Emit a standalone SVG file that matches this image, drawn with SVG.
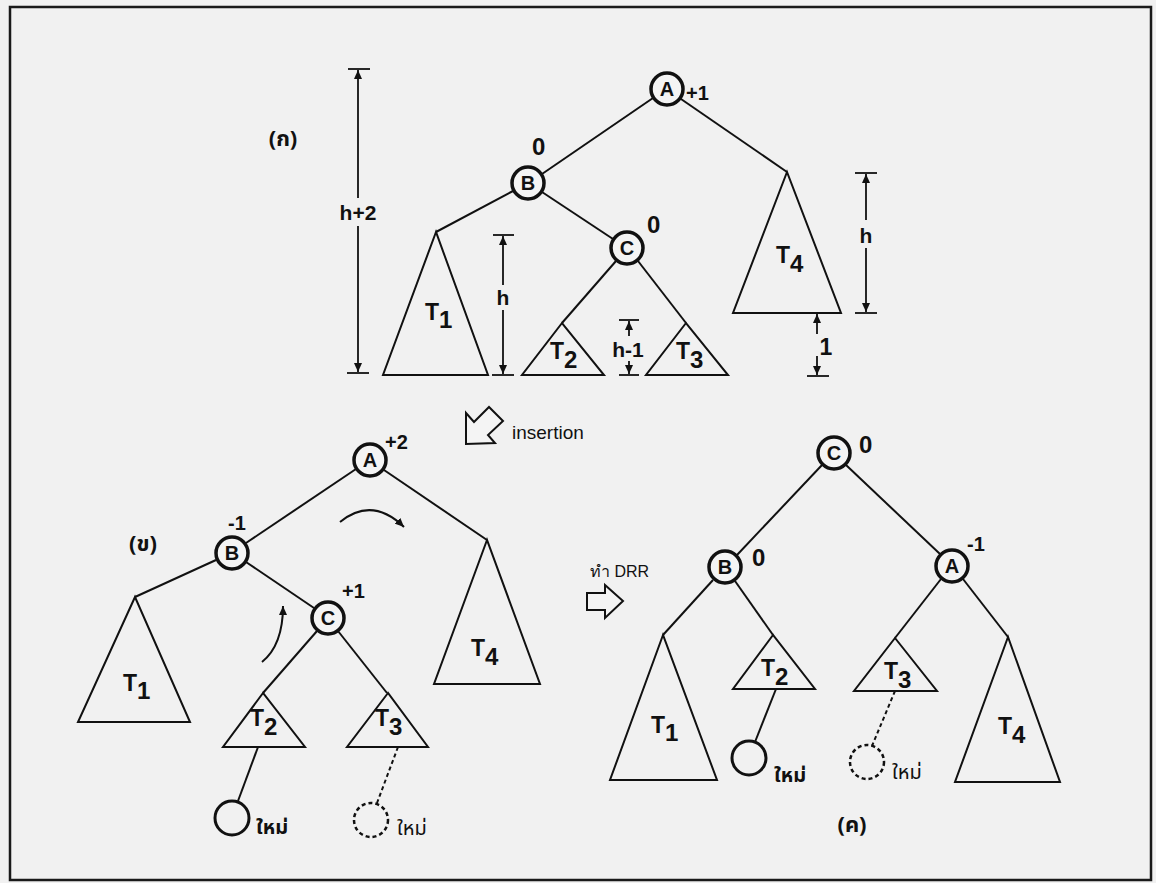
<svg xmlns="http://www.w3.org/2000/svg" width="1156" height="883" viewBox="0 0 1156 883">
<defs>
<marker id="ah" markerUnits="userSpaceOnUse" markerWidth="10" markerHeight="8" refX="9" refY="4" orient="auto"><path d="M0,0 L9,4 L0,8 z" fill="#111"/></marker>
<style>
.bg{fill:#f1f1f1}
.frame{fill:none;stroke:#1a1a1a;stroke-width:2.5}
.e{stroke:#111;stroke-width:2;fill:none}
.ed{stroke:#111;stroke-width:2;fill:none;stroke-dasharray:4 3}
.tri{fill:none;stroke:#111;stroke-width:2;stroke-linejoin:miter}
.nd{fill:#f4f4f4;stroke:#111;stroke-width:3.5}
.nw{fill:none;stroke:#111;stroke-width:3}
.nwd{fill:none;stroke:#111;stroke-width:2.5;stroke-dasharray:4 3}
.dim{stroke:#111;stroke-width:1.8;fill:none}
.lt{font-family:"Liberation Sans",Arial,sans-serif;font-weight:bold;font-size:20px;fill:#111;text-anchor:middle}
.bal{font-family:"Liberation Sans",Arial,sans-serif;font-weight:bold;font-size:20px;fill:#111}
.z{font-family:"Liberation Sans",Arial,sans-serif;font-weight:bold;font-size:24px;fill:#111}
.tl{font-family:"Liberation Sans",Arial,sans-serif;font-weight:bold;font-size:23px;fill:#111}
.sub{font-size:24px}
.dl{font-family:"Liberation Sans",Arial,sans-serif;font-weight:bold;font-size:21px;fill:#111;text-anchor:middle}
.th{font-family:"Noto Sans Thai","Noto Sans","DejaVu Sans",sans-serif;font-size:20px;fill:#111}
.thb{font-weight:bold}
.pl{font-family:"Noto Sans Thai","Liberation Sans","DejaVu Sans",sans-serif;font-weight:bold;font-size:22px;fill:#111;text-anchor:middle}
.nt{font-family:"Liberation Sans",Arial,sans-serif;font-size:19px;fill:#111}
.ha{fill:#f4f4f4;stroke:#111;stroke-width:2;stroke-linejoin:miter}
</style>
</defs>
<rect class="bg" x="0" y="0" width="1156" height="883"/>
<rect class="frame" x="10" y="7" width="1141" height="873"/>

<!-- connectors -->
<g id="connectors">
<!-- top tree -->
<line class="e" x1="653" y1="98" x2="542" y2="174"/>
<line class="e" x1="681" y1="99" x2="787" y2="172"/>
<line class="e" x1="513" y1="191" x2="436" y2="232"/>
<line class="e" x1="542" y1="192" x2="613" y2="239"/>
<line class="e" x1="616" y1="261" x2="562" y2="323"/>
<line class="e" x1="638" y1="261" x2="686" y2="323"/>
<!-- left tree -->
<line class="e" x1="356" y1="469" x2="246" y2="543"/>
<line class="e" x1="384" y1="470" x2="487" y2="540"/>
<line class="e" x1="216" y1="560" x2="135" y2="597"/>
<line class="e" x1="246" y1="562" x2="314" y2="608"/>
<line class="e" x1="317" y1="631" x2="263" y2="693"/>
<line class="e" x1="338" y1="631" x2="387" y2="693"/>
<line class="e" x1="258" y1="747" x2="238" y2="801"/>
<line class="ed" x1="398" y1="747" x2="377" y2="803"/>
<!-- right tree -->
<line class="e" x1="822" y1="465" x2="737" y2="555"/>
<line class="e" x1="846" y1="465" x2="940" y2="554"/>
<line class="e" x1="713" y1="580" x2="663" y2="635"/>
<line class="e" x1="735" y1="581" x2="773" y2="635"/>
<line class="e" x1="941" y1="579" x2="895" y2="638"/>
<line class="e" x1="963" y1="579" x2="1008" y2="637"/>
<line class="e" x1="776" y1="689" x2="755" y2="742"/>
<line class="ed" x1="895" y1="691" x2="872" y2="746"/>
<!-- rotation arrows -->
<path class="e" d="M340,522 Q372,496 404,527" marker-end="url(#ah)"/>
<path class="e" d="M262,662 Q283,645 283,606" marker-end="url(#ah)"/>
</g>

<!-- dimension lines -->
<g id="dimensions">
<line class="dim" x1="348" y1="69" x2="370" y2="69"/>
<line class="dim" x1="347" y1="373" x2="369" y2="373"/>
<line class="dim" x1="358" y1="198" x2="358" y2="70" marker-end="url(#ah)"/>
<line class="dim" x1="358" y1="226" x2="358" y2="372" marker-end="url(#ah)"/>
<text class="dl" x="358" y="220">h+2</text>

<line class="dim" x1="493" y1="235" x2="514" y2="235"/>
<line class="dim" x1="492" y1="375" x2="514" y2="375"/>
<line class="dim" x1="503" y1="285" x2="503" y2="236" marker-end="url(#ah)"/>
<line class="dim" x1="503" y1="310" x2="503" y2="374" marker-end="url(#ah)"/>
<text class="dl" x="503" y="305">h</text>

<line class="dim" x1="619" y1="320" x2="639" y2="320"/>
<line class="dim" x1="619" y1="375" x2="639" y2="375"/>
<line class="dim" x1="629" y1="336" x2="629" y2="321" marker-end="url(#ah)"/>
<line class="dim" x1="629" y1="361" x2="629" y2="374" marker-end="url(#ah)"/>
<text class="dl" x="628" y="357">h-1</text>

<line class="dim" x1="855" y1="173" x2="877" y2="173"/>
<line class="dim" x1="855" y1="313" x2="877" y2="313"/>
<line class="dim" x1="866" y1="220" x2="866" y2="174" marker-end="url(#ah)"/>
<line class="dim" x1="866" y1="248" x2="866" y2="312" marker-end="url(#ah)"/>
<text class="dl" x="866" y="243">h</text>

<line class="dim" x1="807" y1="376" x2="829" y2="376"/>
<line class="dim" x1="817" y1="334" x2="817" y2="314" marker-end="url(#ah)"/>
<line class="dim" x1="817" y1="356" x2="817" y2="375" marker-end="url(#ah)"/>
<text class="dl" x="826" y="355" style="font-size:23px">1</text>
</g>

<!-- (ก) top tree -->
<text class="pl" x="283" y="146">(ก)</text>
<g id="top-A"><circle class="nd" cx="667" cy="89" r="16"/><text class="lt" x="667" y="96">A</text><text class="bal" x="686" y="100">+1</text></g>
<g id="top-B"><circle class="nd" cx="528" cy="183" r="16"/><text class="lt" x="528" y="190">B</text><text class="z" x="532" y="155">0</text></g>
<g id="top-C"><circle class="nd" cx="627" cy="248" r="16"/><text class="lt" x="627" y="255">C</text><text class="z" x="647" y="233">0</text></g>
<g id="top-T1"><polygon class="tri" points="436,232 383,375 488,375"/><text class="tl" x="425" y="320">T<tspan class="sub" dy="8">1</tspan></text></g>
<g id="top-T2"><polygon class="tri" points="562,323 522,375 604,375"/><text class="tl" x="550" y="359">T<tspan class="sub" dy="9">2</tspan></text></g>
<g id="top-T3"><polygon class="tri" points="686,323 646,375 728,375"/><text class="tl" x="676" y="359">T<tspan class="sub" dy="9">3</tspan></text></g>
<g id="top-T4"><polygon class="tri" points="787,172 733,313 841,313"/><text class="tl" x="776" y="263">T<tspan class="sub" dy="9">4</tspan></text></g>

<!-- insertion arrow -->
<g id="insertion">
<polygon class="ha" points="466,444 466,413 474,422 489,407 503,421 488,435 495,443"/>
<text class="nt" x="512" y="439">insertion</text>
</g>

<!-- (ข) left tree -->
<text class="pl" x="143" y="551">(ข)</text>
<g id="L-A"><circle class="nd" cx="370" cy="460" r="16"/><text class="lt" x="370" y="467">A</text><text class="bal" x="385" y="449">+2</text></g>
<g id="L-B"><circle class="nd" cx="232" cy="553" r="16"/><text class="lt" x="232" y="560">B</text><text class="bal" x="228" y="530">-1</text></g>
<g id="L-C"><circle class="nd" cx="328" cy="618" r="16"/><text class="lt" x="328" y="625">C</text><text class="bal" x="342" y="598">+1</text></g>
<g id="L-T1"><polygon class="tri" points="135,597 78,722 190,722"/><text class="tl" x="123" y="691">T<tspan class="sub" dy="8">1</tspan></text></g>
<g id="L-T2"><polygon class="tri" points="263,693 223,747 305,747"/><text class="tl" x="250" y="726">T<tspan class="sub" dy="9">2</tspan></text></g>
<g id="L-T3"><polygon class="tri" points="388,693 347,747 428,747"/><text class="tl" x="375" y="726">T<tspan class="sub" dy="9">3</tspan></text></g>
<g id="L-T4"><polygon class="tri" points="487,540 434,684 540,684"/><text class="tl" x="471" y="656">T<tspan class="sub" dy="9">4</tspan></text></g>
<g id="L-new1"><circle class="nw" cx="232" cy="818" r="17"/><text class="th thb" x="256" y="834">ใหม่</text></g>
<g id="L-new2"><circle class="nwd" cx="371" cy="820" r="17"/><text class="th" x="397" y="835">ใหม่</text></g>

<!-- DRR arrow -->
<g id="drr">
<text class="nt" x="590" y="577" style="font-size:16px">ทำ DRR</text>
<polygon class="ha" points="587,593 605,593 605,585 623,601 605,618 605,610 587,610"/>
</g>

<!-- (ค) right tree -->
<text class="pl" x="852" y="832">(ค)</text>
<g id="R-C"><circle class="nd" cx="834" cy="453" r="16"/><text class="lt" x="834" y="460">C</text><text class="z" x="859" y="453">0</text></g>
<g id="R-B"><circle class="nd" cx="725" cy="567" r="16"/><text class="lt" x="725" y="574">B</text><text class="z" x="752" y="566">0</text></g>
<g id="R-A"><circle class="nd" cx="952" cy="566" r="16"/><text class="lt" x="952" y="573">A</text><text class="bal" x="967" y="551">-1</text></g>
<g id="R-T1"><polygon class="tri" points="663,635 610,780 717,780"/><text class="tl" x="651" y="733">T<tspan class="sub" dy="8">1</tspan></text></g>
<g id="R-T2"><polygon class="tri" points="773,635 733,689 815,689"/><text class="tl" x="761" y="676">T<tspan class="sub" dy="9">2</tspan></text></g>
<g id="R-T3"><polygon class="tri" points="895,638 854,691 937,691"/><text class="tl" x="884" y="679">T<tspan class="sub" dy="9">3</tspan></text></g>
<g id="R-T4"><polygon class="tri" points="1008,637 955,782 1060,782"/><text class="tl" x="998" y="734">T<tspan class="sub" dy="9">4</tspan></text></g>
<g id="R-new1"><circle class="nw" cx="749" cy="758" r="17"/><text class="th thb" x="774" y="782">ใหม่</text></g>
<g id="R-new2"><circle class="nwd" cx="867" cy="762" r="17"/><text class="th" x="892" y="779">ใหม่</text></g>
</svg>
